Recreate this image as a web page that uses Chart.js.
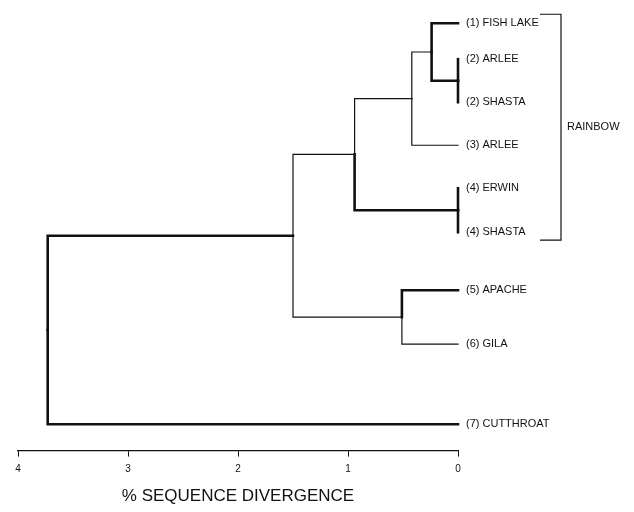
<!DOCTYPE html>
<html>
<head>
<meta charset="utf-8">
<script src="https://cdn.jsdelivr.net/npm/chart.js@4"></script>
<style>html,body{margin:0;padding:0;background:#fff}</style>
</head>
<body>
<canvas id="c" width="634" height="512"></canvas>
<script>
// leaves, top to bottom, and their row position
const leafLabels = ['(1) FISH LAKE','(2) ARLEE','(2) SHASTA','(3) ARLEE','(4) ERWIN','(4) SHASTA','(5) APACHE','(6) GILA','(7) CUTTHROAT'];
const leafRows = [0.07, 0.93, 1.96, 2.99, 4.02, 5.07, 6.46, 7.75, 9.67];
// merges: child A, child B, % divergence (new node ids start after the leaves)
const mergeA = [1, 0, 10, 4, 11, 6, 13, 15];
const mergeB = [2, 9, 3, 5, 12, 7, 14, 8];
const mergeHeight = [0, 0.24, 0.42, 0, 0.94, 0.51, 1.5, 3.73];
const xTicks = [0, 1, 2, 3, 4];
const groupName = 'RAINBOW';
const groupLeaves = [0, 5];

// line weights of each link (style only)
const boldA = [true, true, false, true, false, true, false, true];
const boldB = [true, true, false, true, true, false, false, true];
const ink = '#111';
const family = '"Liberation Sans", Arial, Helvetica, sans-serif';

var nodeX = leafRows.map(function(){ return 0; });
var nodeY = leafRows.slice();
var datasets = [];
for (var i = 0; i < mergeA.length; i++) {
    var id = leafRows.length + i;
    nodeX[id] = mergeHeight[i];
    nodeY[id] = (nodeY[mergeA[i]] + nodeY[mergeB[i]]) / 2;
    var kids = [[mergeA[i], boldA[i]], [mergeB[i], boldB[i]]];
    for (var k = 0; k < 2; k++) {
        var c = kids[k][0];
        datasets.push({
            data: [
                {x: nodeX[id], y: nodeY[id]},
                {x: nodeX[id], y: nodeY[c]},
                {x: nodeX[c], y: nodeY[c]}
            ],
            showLine: true,
            pointRadius: 0,
            borderColor: ink,
            borderWidth: kids[k][1] ? 2.6 : 1.2,
            borderCapStyle: 'square',
            clip: false
        });
    }
}

const leafText = {
    id: 'leafText',
    afterDatasetsDraw(chart) {
        var ctx = chart.ctx, xs = chart.scales.x, ys = chart.scales.y;
        ctx.save();
        ctx.fillStyle = ink;
        ctx.font = '11px ' + family;
        ctx.textBaseline = 'middle';
        ctx.textAlign = 'left';
        var lx = xs.getPixelForValue(0) + 8;
        for (var j = 0; j < leafLabels.length; j++) {
            ctx.fillText(leafLabels[j], lx, ys.getPixelForValue(leafRows[j]));
        }
        // group bracket
        var top = ys.getPixelForValue(leafRows[groupLeaves[0]]) - 9;
        var bot = ys.getPixelForValue(leafRows[groupLeaves[1]]) + 8;
        var bx = lx + 95;
        ctx.strokeStyle = ink;
        ctx.lineWidth = 1.2;
        ctx.beginPath();
        ctx.moveTo(bx - 21, top);
        ctx.lineTo(bx, top);
        ctx.lineTo(bx, bot);
        ctx.lineTo(bx - 21, bot);
        ctx.stroke();
        ctx.fillText(groupName, bx + 6, (top + bot) / 2);
        ctx.restore();
    }
};

new Chart(document.getElementById('c'), {
    type: 'scatter',
    data: { datasets: datasets },
    options: {
        responsive: false,
        animation: false,
        layout: { padding: { left: 18, right: 176, top: 7.8, bottom: 5 } },
        plugins: { legend: { display: false }, tooltip: { enabled: false } },
        scales: {
            x: {
                type: 'linear',
                reverse: true,
                min: 0,
                max: 4,
                afterBuildTicks: function(axis){ axis.ticks = xTicks.map(function(v){ return {value: v}; }); },
                grid: { drawOnChartArea: false, drawTicks: true, tickLength: 6, color: ink, lineWidth: 1 },
                border: { display: true, color: ink, width: 1.2 },
                ticks: { color: ink, font: { size: 10, family: family }, padding: 7, maxRotation: 0 },
                title: { display: true, text: '% SEQUENCE DIVERGENCE', color: ink,
                         font: { size: 17, family: family }, padding: { top: 4, bottom: 0 } }
            },
            y: { type: 'linear', display: false, reverse: true, min: -0.3, max: 10.3 }
        }
    },
    plugins: [leafText]
});
</script>
</body>
</html>
